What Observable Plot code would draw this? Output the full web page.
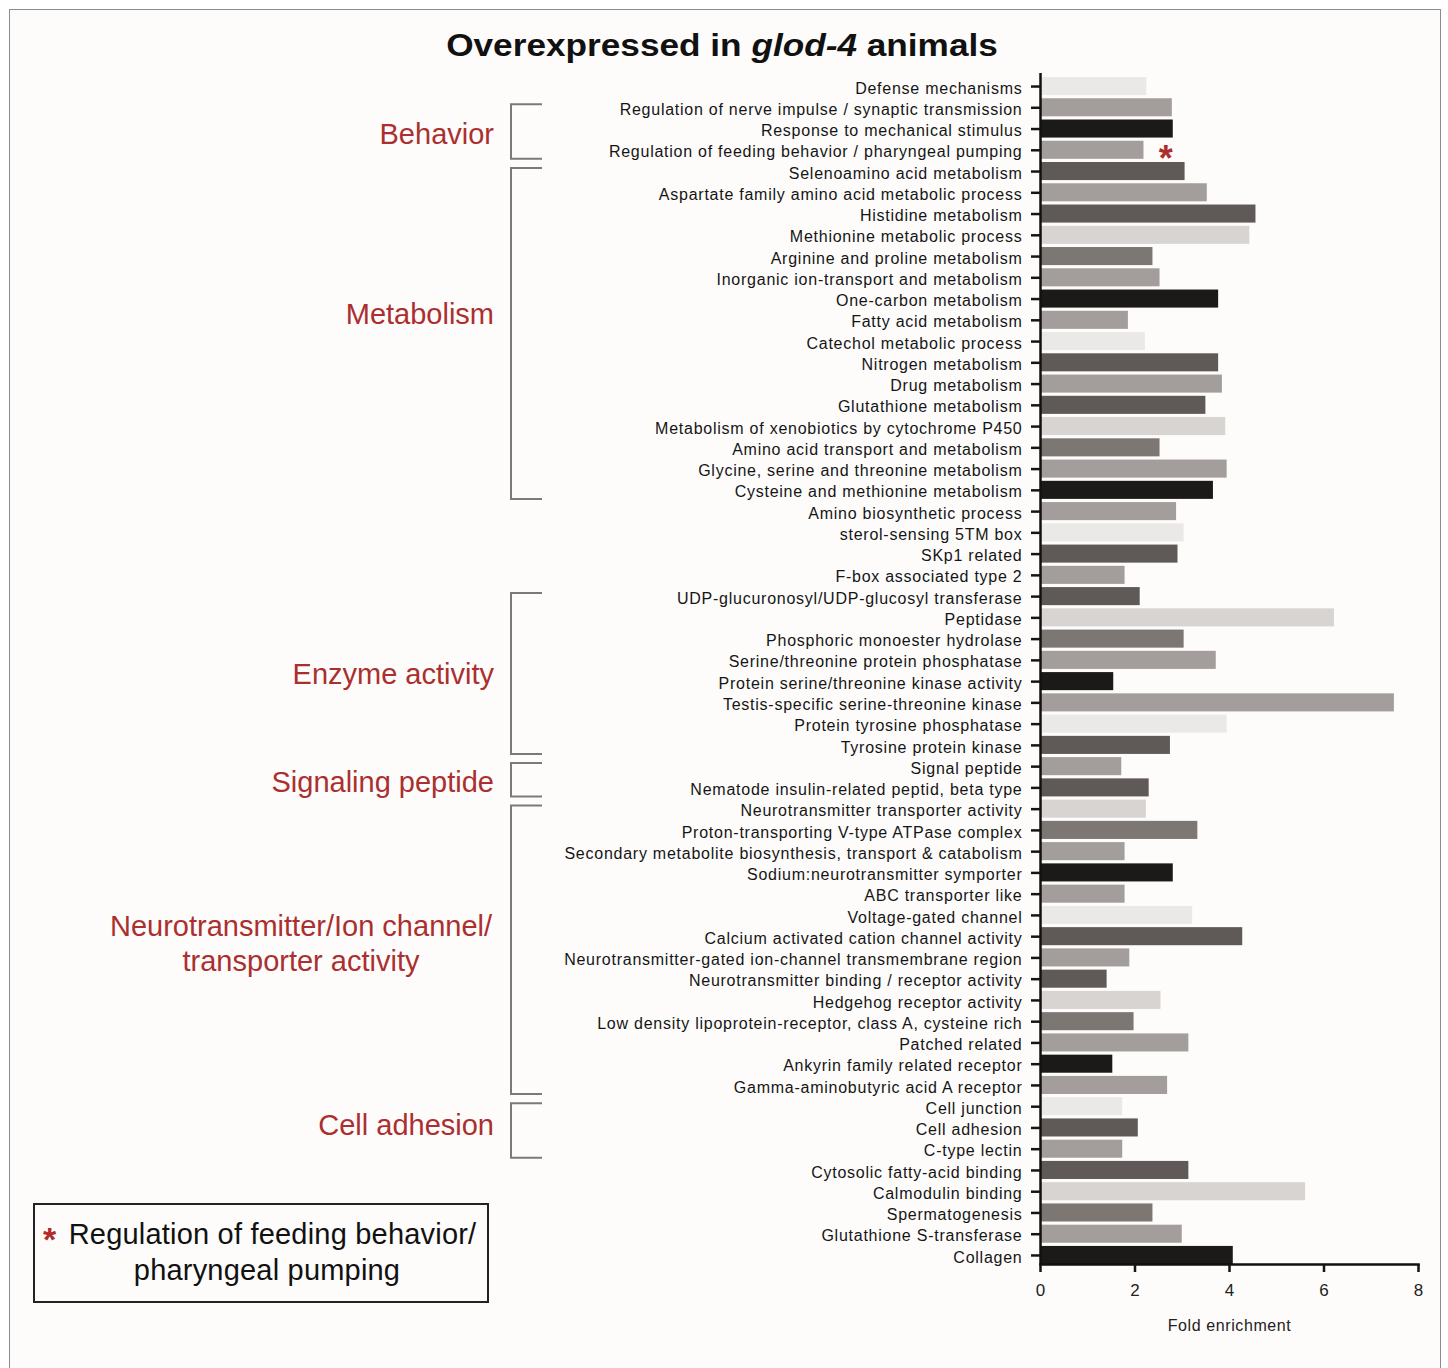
<!DOCTYPE html>
<html>
<head>
<meta charset="utf-8">
<script src="https://cdn.jsdelivr.net/npm/d3@7"></script>
<script src="https://cdn.jsdelivr.net/npm/@observablehq/plot@0.6"></script>
<style>
  html, body { margin: 0; padding: 0; background: #ffffff; }
  body { font-family: Arial, "Liberation Sans", Helvetica, sans-serif; }
  #page { position: relative; width: 1448px; height: 1368px; overflow: hidden; }
  #frame { position: absolute; left: 9px; top: 9px; width: 1432px; height: 1380px;
           border: 1.5px solid #8c8c8c; background: #fdfcfb; box-sizing: border-box; }
  #title { position: absolute; left: 0; top: 26px; width: 1444px; text-align: center;
           font-size: 32px; font-weight: bold; line-height: 38px; color: #111;
           transform: scaleX(1.1); transform-origin: 722px 50%; }
  #chart { position: absolute; left: 0; top: 0; }
  #chart g[aria-label="y-axis tick label"] text { letter-spacing: 0.75px; }
  #chart g[aria-label="text"] text { letter-spacing: 0.6px; }
  #legend { position: absolute; left: 33px; top: 1203px; width: 456px; height: 100px;
            border: 2.5px solid #222; box-sizing: border-box; font-size: 29px; color: #111;
            letter-spacing: 0.2px; }
  #legend .l1 { position: absolute; left: 8px; top: 13px; white-space: nowrap; }
  #legend .l2 { position: absolute; left: 0; width: 464px; top: 49px; text-align: center; white-space: nowrap; }
  #legend .star { color: #b02c2c; font-size: 34px; font-weight: bold; vertical-align: -7px; margin-right: 4px; }
</style>
</head>
<body>
<div id="page">
  <div id="frame"></div>
  <div id="title">Overexpressed in <i>glod-4</i> animals</div>
  <div id="chart"></div>
  <div id="legend">
    <div class="l1"><span class="star">*</span> Regulation of feeding behavior/</div>
    <div class="l2">pharyngeal pumping</div>
  </div>
</div>
<script>
// ---- Data ----
const terms = [
  "Defense mechanisms",
  "Regulation of nerve impulse / synaptic transmission",
  "Response to mechanical stimulus",
  "Regulation of feeding behavior / pharyngeal pumping",
  "Selenoamino acid metabolism",
  "Aspartate family amino acid metabolic process",
  "Histidine metabolism",
  "Methionine metabolic process",
  "Arginine and proline metabolism",
  "Inorganic ion-transport and metabolism",
  "One-carbon metabolism",
  "Fatty acid metabolism",
  "Catechol metabolic process",
  "Nitrogen metabolism",
  "Drug metabolism",
  "Glutathione metabolism",
  "Metabolism of xenobiotics by cytochrome P450",
  "Amino acid transport and metabolism",
  "Glycine, serine and threonine metabolism",
  "Cysteine and methionine metabolism",
  "Amino biosynthetic process",
  "sterol-sensing 5TM box",
  "SKp1 related",
  "F-box associated type 2",
  "UDP-glucuronosyl/UDP-glucosyl transferase",
  "Peptidase",
  "Phosphoric monoester hydrolase",
  "Serine/threonine protein phosphatase",
  "Protein serine/threonine kinase activity",
  "Testis-specific serine-threonine kinase",
  "Protein tyrosine phosphatase",
  "Tyrosine protein kinase",
  "Signal peptide",
  "Nematode insulin-related peptid, beta type",
  "Neurotransmitter transporter activity",
  "Proton-transporting V-type ATPase complex",
  "Secondary metabolite biosynthesis, transport & catabolism",
  "Sodium:neurotransmitter symporter",
  "ABC transporter like",
  "Voltage-gated channel",
  "Calcium activated cation channel activity",
  "Neurotransmitter-gated ion-channel transmembrane region",
  "Neurotransmitter binding / receptor activity",
  "Hedgehog receptor activity",
  "Low density lipoprotein-receptor, class A, cysteine rich",
  "Patched related",
  "Ankyrin family related receptor",
  "Gamma-aminobutyric acid A receptor",
  "Cell junction",
  "Cell adhesion",
  "C-type lectin",
  "Cytosolic fatty-acid binding",
  "Calmodulin binding",
  "Spermatogenesis",
  "Glutathione S-transferase",
  "Collagen"
];

const foldEnrichment = [
  2.25, 2.79, 2.81, 2.19, 3.06, 3.53, 4.56, 4.43, 2.38, 2.53,
  3.77, 1.86, 2.22, 3.77, 3.85, 3.50, 3.92, 2.53, 3.95, 3.66,
  2.88, 3.04, 2.91, 1.79, 2.11, 6.22, 3.04, 3.72, 1.55, 7.49,
  3.95, 2.75, 1.72, 2.30, 2.24, 3.33, 1.79, 2.81, 1.79, 3.22,
  4.28, 1.89, 1.41, 2.55, 1.98, 3.14, 1.53, 2.69, 1.74, 2.07,
  1.74, 3.14, 5.61, 2.38, 3.00, 4.08
];

// shade category of each bar (VL very light, L light, G gray, M mid, D dark, K black)
const tones = [
  "VL","G","K","G","D","G","D","L","M","G",
  "K","G","VL","D","G","D","L","M","G","K",
  "G","VL","D","G","D","L","M","G","K","G",
  "VL","D","G","D","L","M","G","K","G","VL",
  "D","G","D","L","M","G","K","G","VL","D",
  "G","D","L","M","G","K"
];

const starredTerms = ["Regulation of feeding behavior / pharyngeal pumping"];

const groupNames = ["Behavior", "Metabolism", "Enzyme activity", "Signaling peptide",
  "Neurotransmitter/Ion channel/\ntransporter activity", "Cell adhesion"];
const groupFirst = ["Regulation of nerve impulse / synaptic transmission", "Selenoamino acid metabolism",
  "UDP-glucuronosyl/UDP-glucosyl transferase", "Signal peptide",
  "Neurotransmitter transporter activity", "Cell junction"];
const groupLast = ["Regulation of feeding behavior / pharyngeal pumping", "Cysteine and methionine metabolism",
  "Tyrosine protein kinase", "Nematode insulin-related peptid, beta type",
  "Gamma-aminobutyric acid A receptor", "C-type lectin"];

const xTicks = [0, 2, 4, 6, 8];

// ---- Build ----
const rows = terms.map((t, i) => ({term: t, value: foldEnrichment[i], tone: tones[i]}));
const starred = rows.filter(d => starredTerms.includes(d.term));

const FONT = 'Arial, "Liberation Sans", Helvetica, sans-serif';
const RED = "#ab2f2f";

const chart = Plot.plot({
  width: 1448,
  height: 1345,
  marginLeft: 1040,
  marginRight: 30,
  marginTop: 77,
  marginBottom: 81,
  style: {fontFamily: FONT, fontSize: "16px", background: "transparent", color: "#151515"},
  x: {domain: [0, 8], label: null},
  y: {domain: terms, paddingInner: 0.15, paddingOuter: 0, round: false, label: null},
  color: {type: "ordinal", domain: ["VL","L","G","M","D","K"],
          range: ["#ebe9e8","#d8d4d2","#a39e9c","#7d7774","#5f5a58","#1b1a18"]},
  marks: [
    Plot.barX(rows, {x: "value", y: "term", fill: "tone"}),
    Plot.text(starred, {x: "value", y: "term", text: () => "*", dx: 22, dy: 9,
      fill: RED, fontSize: 36, fontWeight: "bold"}),
    Plot.ruleX([0], {stroke: "#111", strokeWidth: 2.5, insetTop: -4}),
    Plot.frame({anchor: "bottom", stroke: "#111", strokeWidth: 2.5}),
    Plot.axisY({tickSize: 9, strokeWidth: 2.5, label: null, text: null}),
    Plot.axisY({tickSize: 0, tickPadding: 18, fontSize: 16, label: null, fill: "#151515", dy: 2}),
    Plot.axisX({ticks: xTicks, tickSize: 8, tickPadding: 11, strokeWidth: 2.5, fontSize: 17, label: null, fill: "#222"}),
    Plot.text(["Fold enrichment"], {frameAnchor: "bottom", lineAnchor: "middle", dy: 61,
      fontSize: 16, fill: "#222"})
  ]
});

document.getElementById("chart").appendChild(chart);

// ---- Group brackets and labels, positioned with the plot's y scale ----
const ys = chart.scale("y");
const bw = ys.bandwidth;
const svg = d3.select(chart);
const bracketX = 511, armX = 542, labelRight = 494;
const labelShift = {"Metabolism": -20, "Cell adhesion": -6, "Behavior": 2, "Signaling peptide": 2,
  "Neurotransmitter/Ion channel/\ntransporter activity": -6};
const g = svg.append("g");
groupNames.forEach((name, i) => {
  const top = ys.apply(groupFirst[i]) + 6;
  const bot = ys.apply(groupLast[i]) + bw;
  g.append("path")
    .attr("d", `M${armX},${top}H${bracketX}V${bot}H${armX}`)
    .attr("fill", "none").attr("stroke", "#7a7a7a").attr("stroke-width", 2);
  const lines = name.split("\n");
  const cy = (top + bot) / 2 + (labelShift[name] || 0);
  const multi = lines.length > 1;
  const t = g.append("text")
    .attr("fill", RED).attr("font-size", 29).attr("font-family", FONT)
    .attr("text-anchor", multi ? "middle" : "end");
  lines.forEach((ln, k) => {
    t.append("tspan")
      .attr("x", multi ? 301 : labelRight)
      .attr("y", cy + (k - (lines.length - 1) / 2) * 35)
      .attr("dy", "0.35em")
      .text(ln);
  });
});
</script>
</body>
</html>
